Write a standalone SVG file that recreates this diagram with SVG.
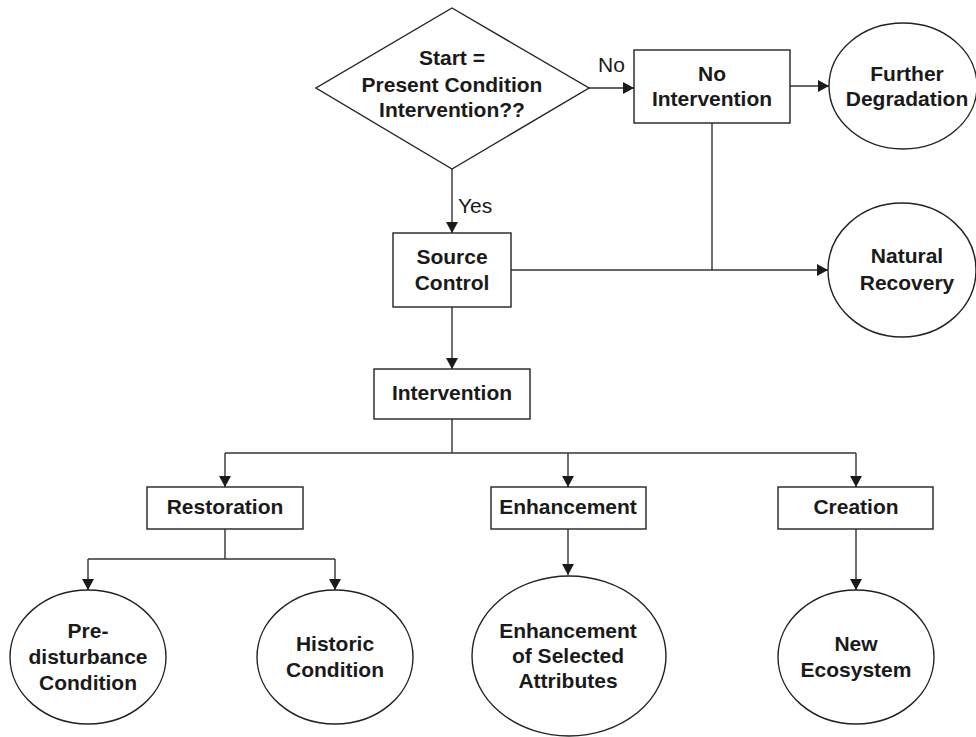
<svg xmlns="http://www.w3.org/2000/svg" width="976" height="737" viewBox="0 0 976 737">
  <style>
    .shape { fill: #ffffff; stroke: #222222; stroke-width: 1.4; }
    .wire { fill: none; stroke: #333333; stroke-width: 1.4; }
    .lbl { font-family: "Liberation Sans", Arial, sans-serif; font-size: 21px; font-weight: bold; fill: #1a1a1a; text-anchor: middle; }
    .tag { font-family: "Liberation Sans", Arial, sans-serif; font-size: 21px; fill: #1a1a1a; }
  </style>
  <defs>
    <marker id="arrow" viewBox="0 0 11 12" refX="11" refY="6" markerWidth="11" markerHeight="12" markerUnits="userSpaceOnUse" orient="auto">
      <path d="M0,0 L11,6 L0,12 Z" fill="#1a1a1a"/>
    </marker>
  </defs>
  <rect width="976" height="737" fill="#ffffff"/>

  <!-- connectors -->
  <g id="connectors">
    <line class="wire" x1="589" y1="88" x2="634" y2="88" marker-end="url(#arrow)"/>
    <line class="wire" x1="790" y1="86" x2="829" y2="86" marker-end="url(#arrow)"/>
    <line class="wire" x1="452" y1="169" x2="452" y2="233" marker-end="url(#arrow)"/>
    <line class="wire" x1="712" y1="123" x2="712" y2="270"/>
    <line class="wire" x1="511" y1="270" x2="828" y2="270" marker-end="url(#arrow)"/>
    <line class="wire" x1="452" y1="307" x2="452" y2="369" marker-end="url(#arrow)"/>
    <line class="wire" x1="452" y1="419" x2="452" y2="453"/>
    <line class="wire" x1="225" y1="453" x2="856" y2="453"/>
    <line class="wire" x1="225" y1="453" x2="225" y2="487" marker-end="url(#arrow)"/>
    <line class="wire" x1="568" y1="453" x2="568" y2="487" marker-end="url(#arrow)"/>
    <line class="wire" x1="856" y1="453" x2="856" y2="487" marker-end="url(#arrow)"/>
    <line class="wire" x1="225" y1="529" x2="225" y2="559"/>
    <line class="wire" x1="88" y1="559" x2="335" y2="559"/>
    <line class="wire" x1="88" y1="559" x2="88" y2="590" marker-end="url(#arrow)"/>
    <line class="wire" x1="335" y1="559" x2="335" y2="590" marker-end="url(#arrow)"/>
    <line class="wire" x1="568" y1="529" x2="568" y2="575" marker-end="url(#arrow)"/>
    <line class="wire" x1="856" y1="529" x2="856" y2="590" marker-end="url(#arrow)"/>
    <text class="tag" x="598" y="72">No</text>
    <text class="tag" x="458" y="213">Yes</text>
  </g>

  <!-- decision -->
  <g id="start">
    <polygon class="shape" points="452,8 589,88 452,169 316,88"/>
    <text class="lbl" x="452" y="65">Start =</text>
    <text class="lbl" x="452" y="92">Present Condition</text>
    <text class="lbl" x="452" y="117">Intervention??</text>
  </g>

  <g id="no-intervention">
    <rect class="shape" x="634" y="50" width="156" height="73"/>
    <text class="lbl" x="712" y="81">No</text>
    <text class="lbl" x="712" y="106">Intervention</text>
  </g>

  <g id="further-degradation">
    <ellipse class="shape" cx="903" cy="86" rx="74" ry="63"/>
    <text class="lbl" x="907" y="81">Further</text>
    <text class="lbl" x="907" y="106">Degradation</text>
  </g>

  <g id="source-control">
    <rect class="shape" x="393" y="233" width="118" height="74"/>
    <text class="lbl" x="452" y="264">Source</text>
    <text class="lbl" x="452" y="290">Control</text>
  </g>

  <g id="natural-recovery">
    <ellipse class="shape" cx="902" cy="270" rx="74" ry="67"/>
    <text class="lbl" x="907" y="263">Natural</text>
    <text class="lbl" x="907" y="290">Recovery</text>
  </g>

  <g id="intervention">
    <rect class="shape" x="374" y="369" width="156" height="50"/>
    <text class="lbl" x="452" y="400">Intervention</text>
  </g>

  <g id="restoration">
    <rect class="shape" x="147" y="487" width="156" height="42"/>
    <text class="lbl" x="225" y="514">Restoration</text>
  </g>

  <g id="enhancement">
    <rect class="shape" x="491" y="487" width="155" height="42"/>
    <text class="lbl" x="568" y="514">Enhancement</text>
  </g>

  <g id="creation">
    <rect class="shape" x="778" y="487" width="155" height="42"/>
    <text class="lbl" x="856" y="514">Creation</text>
  </g>

  <g id="pre-disturbance">
    <ellipse class="shape" cx="88" cy="657" rx="78" ry="67"/>
    <text class="lbl" x="88" y="638">Pre-</text>
    <text class="lbl" x="88" y="664">disturbance</text>
    <text class="lbl" x="88" y="690">Condition</text>
  </g>

  <g id="historic-condition">
    <ellipse class="shape" cx="335" cy="657" rx="78" ry="67"/>
    <text class="lbl" x="335" y="651">Historic</text>
    <text class="lbl" x="335" y="677">Condition</text>
  </g>

  <g id="selected-attributes">
    <ellipse class="shape" cx="569" cy="656" rx="97" ry="80"/>
    <text class="lbl" x="568" y="638">Enhancement</text>
    <text class="lbl" x="568" y="663">of Selected</text>
    <text class="lbl" x="568" y="688">Attributes</text>
  </g>

  <g id="new-ecosystem">
    <ellipse class="shape" cx="856" cy="657" rx="78" ry="67"/>
    <text class="lbl" x="856" y="651">New</text>
    <text class="lbl" x="856" y="677">Ecosystem</text>
  </g>
</svg>
